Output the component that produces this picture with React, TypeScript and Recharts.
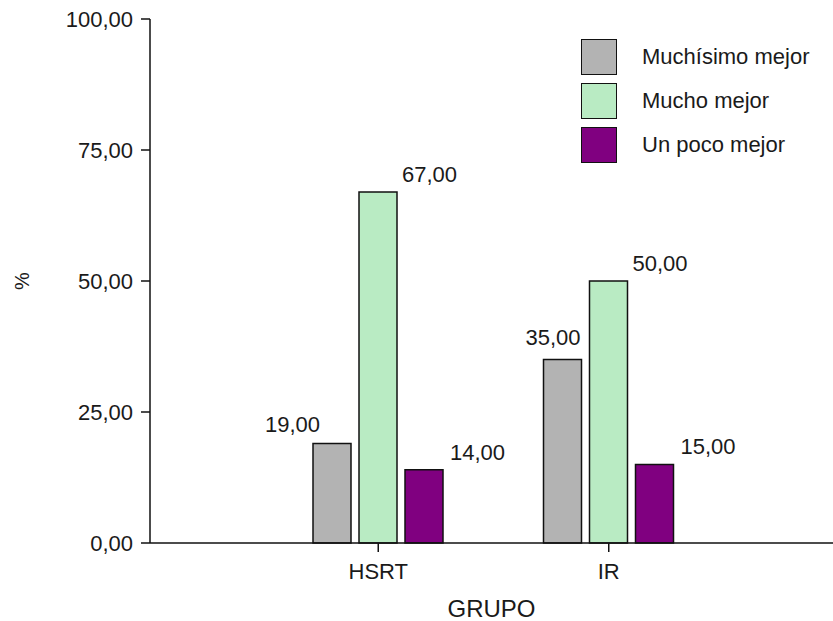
import React from 'react'
import { BarChart, Bar, XAxis, YAxis, Legend, LabelList, Label } from 'recharts'

// Porcentaje de mejoría por grupo
const categories = ['HSRT', 'IR']
const muchisimoMejor = [19, 35]
const muchoMejor = [67, 50]
const unPocoMejor = [14, 15]
const yTicks = [0, 25, 50, 75, 100]

const seriesNames = ['Muchísimo mejor', 'Mucho mejor', 'Un poco mejor']
const seriesColors = ['#b3b3b3', '#b9ebc3', '#800080']

const data = categories.map((grupo, i) => ({
  grupo,
  muchisimo: muchisimoMejor[i],
  mucho: muchoMejor[i],
  poco: unPocoMejor[i],
}))

const FONT = '"Liberation Sans", Arial, Helvetica, sans-serif'
const TEXT = '#1a1a1a'

const fmt = (v: number) => Number(v).toFixed(2).replace('.', ',')

// value labels: grey ones sit to the left of the bar, others to the right
const grayShift = [7, 37]
const grayLift = [11, 15]

const LeftLabel = (props: any) => {
  const { x, y, value, index } = props
  return (
    <text x={x + grayShift[index]} y={y - grayLift[index]} textAnchor="end" fontSize={22} fill={TEXT} fontFamily={FONT}>
      {fmt(value)}
    </text>
  )
}

const rightLabel = (gap: number) => (props: any) => {
  const { x, y, width, value } = props
  return (
    <text x={x + width + gap} y={y - 10} textAnchor="start" fontSize={22} fill={TEXT} fontFamily={FONT}>
      {fmt(value)}
    </text>
  )
}

const renderLegend = () => (
  <div style={{ fontFamily: FONT, fontSize: 22, color: TEXT }}>
    {seriesNames.map((name, i) => (
      <div key={name} style={{ display: 'flex', alignItems: 'center', height: 44 }}>
        <div
          style={{
            width: 34,
            height: 34,
            background: seriesColors[i],
            border: '1.5px solid #111',
          }}
        />
        <span style={{ marginLeft: 25 }}>{name}</span>
      </div>
    ))}
  </div>
)

const PercentLabel = (props: any) => {
  const { viewBox } = props
  const cx = viewBox.x + 22
  const cy = viewBox.y + viewBox.height / 2
  return (
    <text x={cx} y={cy} transform={`rotate(-90 ${cx} ${cy})`} textAnchor="middle" dominantBaseline="central" fontSize={20} fill={TEXT} fontFamily={FONT}>
      %
    </text>
  )
}

export default function App() {
  const axisLine = { stroke: '#111', strokeWidth: 1.5 }
  return (
    <div style={{ position: 'absolute', left: 0, top: 0, width: 833, height: 621, background: '#fff' }}>
      <BarChart
        width={833}
        height={621}
        data={data}
        margin={{ top: 19, right: 0, bottom: 0, left: 0 }}
        barSize={38}
        barGap={8}
        style={{ fontFamily: FONT }}
      >
        <XAxis
          dataKey="grupo"
          height={78}
          padding={{ left: 113, right: 109 }}
          axisLine={axisLine}
          tickLine={axisLine}
          tickSize={9}
          tickMargin={11}
          tick={{ fontSize: 22, fill: TEXT, fontFamily: FONT }}
        >
          <Label value="GRUPO" position="insideBottom" offset={4} fontSize={24} fill={TEXT} fontFamily={FONT} />
        </XAxis>
        <YAxis
          width={150}
          domain={[0, 100]}
          ticks={yTicks}
          tickFormatter={fmt}
          axisLine={axisLine}
          tickLine={axisLine}
          tickSize={9}
          tickMargin={8}
          tick={{ fontSize: 22, fill: TEXT, fontFamily: FONT }}
          label={<PercentLabel />}
        />
        <Legend
          layout="vertical"
          align="center"
          verticalAlign="middle"
          wrapperStyle={{ top: 35, left: 581, width: 252, height: 132 }}
          content={renderLegend}
        />
        <Bar dataKey="muchisimo" name={seriesNames[0]} fill={seriesColors[0]} stroke="#111" strokeWidth={1.5} isAnimationActive={false}>
          <LabelList dataKey="muchisimo" content={<LeftLabel />} />
        </Bar>
        <Bar dataKey="mucho" name={seriesNames[1]} fill={seriesColors[1]} stroke="#111" strokeWidth={1.5} isAnimationActive={false}>
          <LabelList dataKey="mucho" content={rightLabel(5)} />
        </Bar>
        <Bar dataKey="poco" name={seriesNames[2]} fill={seriesColors[2]} stroke="#111" strokeWidth={1.5} isAnimationActive={false}>
          <LabelList dataKey="poco" content={rightLabel(7)} />
        </Bar>
      </BarChart>
    </div>
  )
}
